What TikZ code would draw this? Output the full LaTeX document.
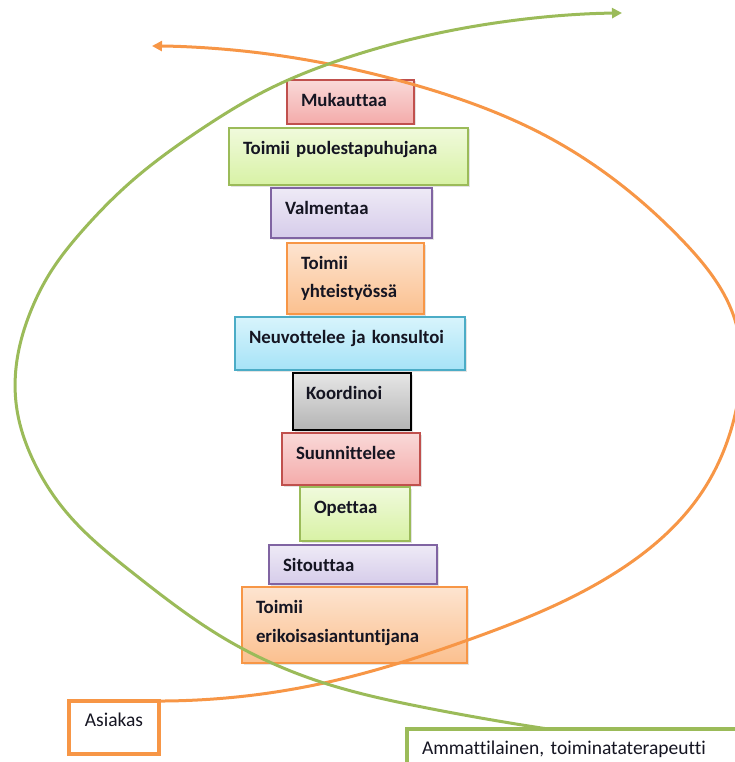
\documentclass[tikz,border=0pt]{standalone}
\usepackage{fontspec}
\setmainfont{Carlito}[Ligatures=NoCommon]
\usetikzlibrary{arrows.meta,shadows,hobby}

\definecolor{lineorange}{HTML}{F79646}
\definecolor{linegreen}{HTML}{9BBB59}
\definecolor{textdark}{HTML}{151522}
\definecolor{redline}{HTML}{C0504D}
\definecolor{redtop}{HTML}{F9D9D8}
\definecolor{redbot}{HTML}{F4ABAA}
\definecolor{grnline}{HTML}{9BBB59}
\definecolor{grntop}{HTML}{F0FADC}
\definecolor{grnbot}{HTML}{D8F2A5}
\definecolor{purline}{HTML}{8064A2}
\definecolor{purtop}{HTML}{EEEAF6}
\definecolor{purbot}{HTML}{D6CCEA}
\definecolor{orgline}{HTML}{F79646}
\definecolor{orgtop}{HTML}{FDE4D0}
\definecolor{orgbot}{HTML}{FBC08F}
\definecolor{bluline}{HTML}{4BACC6}
\definecolor{blutop}{HTML}{D8F4FC}
\definecolor{blubot}{HTML}{A6E3F7}
\definecolor{grytop}{HTML}{E6E6E6}
\definecolor{grybot}{HTML}{B4B4B4}

\begin{document}
\begin{tikzpicture}[x=1pt,y=-1pt,
  stepbox/.style={draw, line width=1.2pt, anchor=north west, align=left,
    outer sep=0pt, inner xsep=14pt, inner ysep=0pt, text height=26.5pt,
    font=\fontsize{18.8}{28}\selectfont\bfseries, text=textdark,
    drop shadow={shadow xshift=1.5pt, shadow yshift=-1.5pt, opacity=0.22}},
  redbox/.style={stepbox, draw=redline, top color=redtop, bottom color=redbot},
  grnbox/.style={stepbox, draw=grnline, top color=grntop, bottom color=grnbot},
  purbox/.style={stepbox, draw=purline, top color=purtop, bottom color=purbot},
  orgbox/.style={stepbox, draw=orgline, top color=orgtop, bottom color=orgbot},
  blubox/.style={stepbox, draw=bluline, top color=blutop, bottom color=blubot},
  grybox/.style={stepbox, draw=black, top color=grytop, bottom color=grybot},
  rolebox/.style={draw, line width=3.5pt, anchor=north west, outer sep=0pt,
    inner ysep=0pt, text height=25pt, fill=white,
    font=\fontsize{19.5}{24}\selectfont, text=textdark},
  curve/.style={line width=3pt, line cap=round,
    -{Triangle[length=10pt,width=10pt]}}
]
\useasboundingbox (0,0) rectangle (735,762);
\clip (0,0) rectangle (735,762);

% the stack of roles
\node[redbox, minimum width=127pt, text width=99pt, text depth=17.5pt]
  (mukauttaa) at (287,80) {Mukauttaa};
\node[grnbox, minimum width=239pt, text width=211pt, text depth=30.5pt]
  (puolesta) at (229,128) {Toimii puolestapuhujana};
\node[purbox, minimum width=161pt, text width=133pt, text depth=23.5pt]
  (valmentaa) at (271,188) {Valmentaa};
\node[orgbox, minimum width=137pt, text width=109pt, text depth=44.5pt]
  (yhteistyo) at (287,243) {Toimii\\yhteistyössä};
\node[blubox, minimum width=230pt, text width=202pt, text depth=26.5pt]
  (neuvottelee) at (235,317) {Neuvottelee ja konsultoi};
\node[grybox, minimum width=118pt, text width=92pt, inner xsep=13pt, text depth=30.5pt]
  (koordinoi) at (293,373) {Koordinoi};
\node[redbox, minimum width=138pt, text width=110pt, text depth=25.5pt]
  (suunnittelee) at (282,433) {Suunnittelee};
\node[grnbox, minimum width=110pt, text width=82pt, text depth=27.5pt]
  (opettaa) at (300,487) {Opettaa};
\node[purbox, minimum width=168pt, text width=140pt, text depth=12.5pt]
  (sitouttaa) at (269,545) {Sitouttaa};
\node[orgbox, minimum width=225pt, text width=197pt, text depth=49.5pt,
  font=\fontsize{18.8}{29}\selectfont\bfseries]
  (erikois) at (242,587) {Toimii\\erikoisasiantuntijana};

% the two parties
\node[rolebox, draw=lineorange, minimum width=90pt, text depth=28pt]
  (asiakas) at (69,701) {Asiakas};
\node[rolebox, draw=linegreen, minimum width=360pt, inner xsep=11pt,
  text width=330pt, align=left, text depth=15pt]
  (ammattilainen) at (407,729) {Ammattilainen, toiminataterapeutti};

% free ends of the two spirals
\coordinate (orangetip) at (152,46);
\coordinate (greentip) at (622,13);
\coordinate (orangestart) at ([xshift=-9pt]asiakas.north east);
\coordinate (greenstart) at ([xshift=141pt]ammattilainen.north west);

\draw[curve, lineorange] (orangestart) to[curve through={
  (324,683) (468,640) (615,573) (700,495) (738,400) (735,320)
  (682,240) (548,137) (415,85) (233,50)}] (orangetip);

\draw[curve, linegreen] (greenstart) to[curve through={
  (422,707) (324,683) (227,640) (133,573) (67,513) (33,460) (17,410)
  (17,360) (30,313) (50,273) (83,230) (133,180) (200,130) (267,90)
  (340,60) (482,25)}] (greentip);
\end{tikzpicture}
\end{document}
